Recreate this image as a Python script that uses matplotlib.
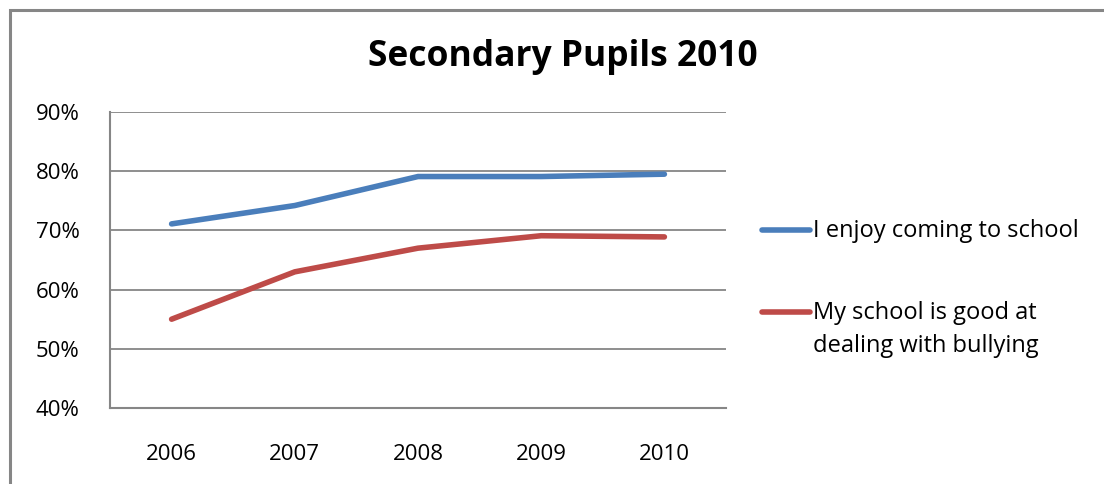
import matplotlib
matplotlib.use('Agg')
from matplotlib import pyplot as plt
from matplotlib.lines import Line2D
from matplotlib.patches import Rectangle
from matplotlib.ticker import FuncFormatter

years = ['2006', '2007', '2008', '2009', '2010']
enjoy = [71.1, 74.2, 79.1, 79.1, 79.5]
bullying = [55.0, 63.0, 67.0, 69.1, 68.9]
labels = ['I enjoy coming to school', 'My school is good at\ndealing with bullying']
colors = ['#4A7EBB', '#BE4B48']

plt.rcParams['font.family'] = ['Open Sans', 'DejaVu Sans']

W, H = 1104, 484
fig = plt.figure(figsize=(W/100, H/100), dpi=100)

# outer chart frame (cut at the right and bottom edges)
fig.patches.append(Rectangle((10/W, -0.1), 1.2, 1 - 10/H + 0.1, transform=fig.transFigure,
                             fill=False, edgecolor='#868686', linewidth=2.2, zorder=0))

ax = fig.add_axes([110/W, 1 - 408/H, (726 - 110)/W, (408 - 112)/H])
x = range(len(years))
for values, color in zip([enjoy, bullying], colors):
    ax.plot(x, values, color=color, linewidth=4, solid_capstyle='round')

ax.set_xlim(-0.5, len(years) - 0.5)
ax.set_ylim(40, 90)
ax.set_yticks(range(40, 91, 10))
ax.yaxis.set_major_formatter(FuncFormatter(lambda v, p: '{:d}%'.format(int(v))))
ax.set_xticks(list(x))
ax.set_xticklabels(years)
ax.tick_params(length=0, labelsize=16, colors='#000000')
ax.tick_params(axis='y', pad=22)
ax.tick_params(axis='x', pad=26)
ax.yaxis.grid(True, color='#868686', linewidth=1.3)
ax.set_axisbelow(True)
for side in ['top', 'right']:
    ax.spines[side].set_visible(False)
for side in ['left', 'bottom']:
    ax.spines[side].set_color('#868686')
    ax.spines[side].set_linewidth(1.5)

fig.text(563/W, 1 - 57/H, 'Secondary Pupils 2010', ha='center', va='center', fontsize=25.5, fontweight='bold')

# legend drawn by hand: key aligned with the first text line, as in Excel
for ypix, label, color in zip([230, 312], labels, colors):
    fig.lines.append(Line2D([762/W, 810/W], [1 - ypix/H, 1 - ypix/H], transform=fig.transFigure,
                            color=color, linewidth=4, solid_capstyle='round'))
    fig.text(813/W, 1 - (ypix - 11)/H, label, ha='left', va='top', fontsize=17, linespacing=1.5)

fig.savefig('out.png', dpi=100)
